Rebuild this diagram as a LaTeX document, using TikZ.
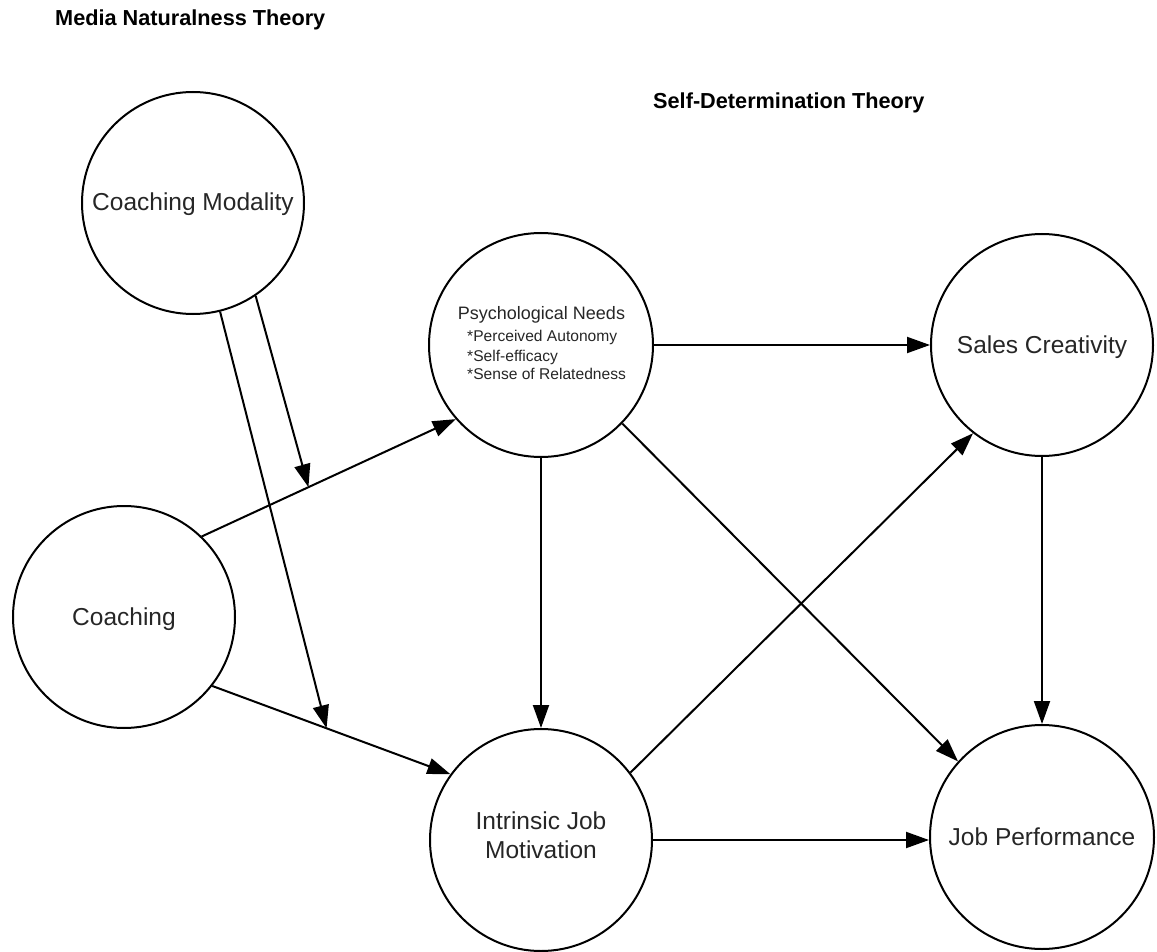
\documentclass[tikz,border=0pt]{standalone}
\usepackage{fontspec}
\setmainfont{Liberation Sans}
\usetikzlibrary{arrows.meta}
\definecolor{txt}{HTML}{262626}
\begin{document}
\begin{tikzpicture}[x=1pt,y=-1pt,
  concept/.style={circle,draw=black,line width=2pt,inner sep=0pt,minimum size=#1},
  label text/.style={inner sep=0pt,anchor=base,text=txt,font=\fontsize{24.5}{29}\selectfont},
  title text/.style={inner sep=0pt,anchor=base west,text=black,font=\fontsize{21.7}{26}\selectfont\bfseries},
  arr/.style={line width=2pt,-{Triangle[length=23pt,width=16pt]}}
]
\useasboundingbox (0,0) rectangle (1157,952);

% titles
\node[title text] (mnt) at (55,26) {Media Naturalness Theory};
\node[title text] (sdt) at (653,109) {Self-Determination Theory};

% circles
\node[concept=222pt] (cm) at (193,203) {};
\node[concept=222pt] (co) at (124,617) {};
\node[concept=224pt] (pn) at (541,345) {};
\node[concept=222pt] (sc) at (1042,345) {};
\node[concept=222pt] (ij) at (541,840) {};
\node[concept=224pt] (jp) at (1042,837) {};

% texts
\node[label text] (cmt) at (193,211) {Coaching Modality};
\node[label text] (cot) at (124,625) {Coaching};
\node[label text] (sct) at (1042,353) {Sales Creativity};
\node[label text] (ijt1) at (541,829) {Intrinsic Job};
\node[label text] (ijt2) at (541,858) {Motivation};
\node[label text] (jpt) at (1042,845) {Job Performance};
\node[inner sep=0pt,anchor=base,text=txt,font=\fontsize{18}{22}\selectfont] (pnt) at (541.5,319) {Psychological Needs};
\begin{scope}[every node/.style={inner sep=0pt,anchor=base west,text=txt,font=\fontsize{15.6}{19}\selectfont}]
\node (pn1) at (467,341.5) {*Perceived Autonomy};
\node (pn2) at (467,361) {*Self-efficacy};
\node (pn3) at (467,379) {*Sense of Relatedness};
\end{scope}

% connectors
\draw[arr] (co.46) -- coordinate[pos=0.42] (m1) (pn.221);
\draw[arr] (co.322) -- coordinate[pos=0.48] (m2) (ij.144);
\draw[arr] (cm.304) -- (m1);
\draw[arr] (cm.284.5) -- (m2);
\draw[arr] (pn.east) -- (sc.west);
\draw[arr] (pn.south) -- (ij.north);
\draw[arr] (pn.316) -- (jp.138);
\draw[arr] (ij.37) -- (sc.232);
\draw[arr] (ij.east) -- (ij.east -| jp.west);
\draw[arr] (sc.south) -- (jp.north);
\end{tikzpicture}
\end{document}
